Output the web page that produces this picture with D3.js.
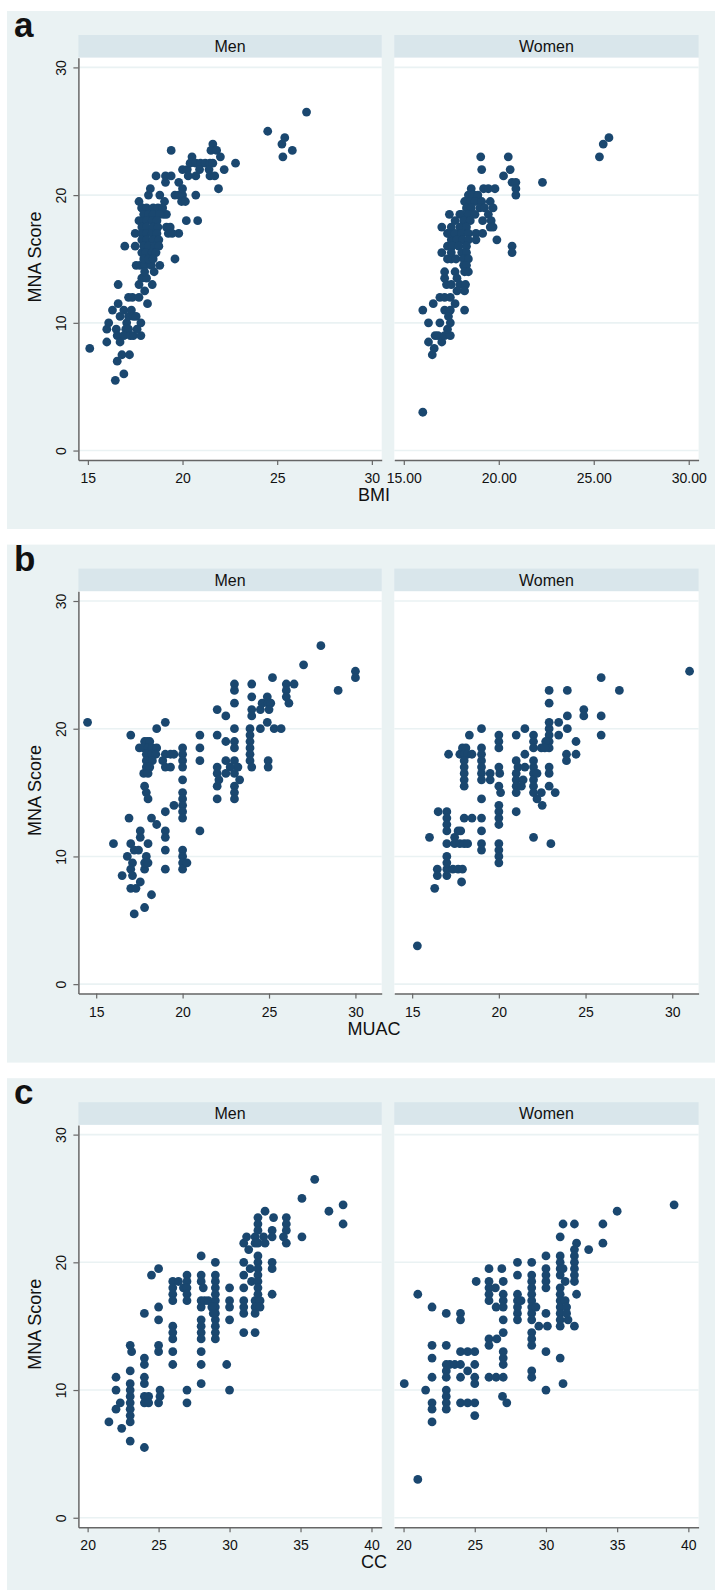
<!DOCTYPE html>
<html><head><meta charset="utf-8">
<script src="https://cdn.jsdelivr.net/npm/d3@7"></script>
<style>
body{margin:0;background:#fff}
svg{display:block}
text{font-family:"Liberation Sans",Arial,Helvetica,sans-serif;fill:#111}
</style>
</head><body>
<svg id="chart" width="715" height="1590"></svg>
<script>
// ---------- DATA ----------
const facetNames = ["Men", "Women"];
const yTicks = [0, 10, 20, 30];
const bmiTicks = [15, 20, 25, 30];
const muacTicks = [15, 20, 25, 30];
const ccTicks = [20, 25, 30, 35, 40];

const menBMI = [
[15.1,8],[16.0,8.5],[16.0,9.5],[16.1,10],[16.3,11],[16.6,13],[16.6,11.5],[16.7,10.5],[16.5,9.5],[16.55,9],[16.7,8.5],[16.8,7.5],[16.55,7],[16.45,5.5],[16.9,6],[17.2,7.5],[16.9,11],[17.05,10],[17.15,10.5],[17.3,11],[17.4,10.5],[17.55,10.5],[17.0,9.5],[17.15,9.5],[16.9,9],[17.25,9],[17.4,9],[17.8,9],[17.8,10],[17.6,9.5],[17.15,12],[17.35,12],[17.7,12],[18.15,11.5],[18.0,12.5],[17.7,13],[17.85,13.5],[18.4,13],[18.1,13.5],[17.55,14.5],[17.75,14.5],[18.0,14.5],[18.35,14.5],[18.8,14.5],[18.0,14],[18.5,14],[16.95,16],[17.5,16],[19.6,15],[17.5,17],[17.7,18],[17.85,19],[17.7,19.5],[18.2,20],[18.3,20.5],[18.6,21.5],[18.8,20],[19.05,19.5],[19.0,18.5],[19.15,18.5],[19.1,21],[19.1,21.5],[19.4,21.5],[19.4,23.5],[19.15,17.5],[19.35,17.5],[19.25,17],[19.8,17],[19.45,17],[19.6,20],[19.8,20],[20.0,20],[19.8,21],[20.0,20.5],[19.95,19.5],[20.15,19.5],[20.2,18],[20.8,18],[20.7,20],[20.0,22],[20.25,22],[20.3,21.5],[20.7,21.5],[20.5,23],[20.4,22.5],[20.7,22.5],[20.95,22.5],[21.2,22.5],[21.45,22.5],[21.6,22.5],[20.9,22],[21.4,22],[21.45,21.5],[21.7,21.5],[21.9,20.5],[22.2,22],[22.8,22.5],[21.6,24],[21.5,23.5],[21.8,23.5],[22.0,23],[24.5,25],[25.25,24],[25.4,24.5],[25.3,23],[25.8,23.5],[26.55,26.5],
[17.85,19],[18.1,19],[18.45,19],[18.7,19],[18.95,19],
[17.95,18.5],[18.2,18.5],[18.45,18.5],[18.8,18.5],
[17.95,18],[18.1,18],[18.4,18],[18.65,18],
[17.85,17.5],[18.1,17.5],[18.45,17.5],[18.7,17.5],
[17.85,17],[18.1,17],[18.4,17],[18.65,17],
[17.85,16.5],[18.1,16.5],[18.45,16.5],[18.75,16.5],
[17.95,16],[18.2,16],[18.55,16],[18.75,16],
[17.85,15.5],[18.05,15.5],[18.4,15.5],[18.6,15.5],
[17.95,15],[18.2,15],[18.45,15]
];

const womenBMI = [
[16.0,3],[16.0,11],[16.3,10],[16.55,11.5],[16.3,8.5],[16.6,8],[16.5,7.5],[16.9,10],[16.65,9],[16.8,9],[17.0,8.5],[17.15,11],[17.45,11],[17.7,11.5],[16.9,12],[17.15,12],[17.45,12],[18.2,11],[17.15,9],[17.45,9],[17.3,9.5],[17.45,10],[17.35,10.5],[17.15,13.5],[17.15,14],[17.7,14],[17.25,13],[17.5,13],[17.95,13],[18.25,13],[17.8,13.5],[18.2,12.5],[17.8,12.5],[17.0,15.5],[17.3,16],[17.5,15],[17.3,15],[17.0,17.5],[17.3,17],[17.5,16.5],[17.4,18.5],[17.7,18],[17.95,18.5],[18.2,19.5],[18.55,20.5],[18.7,20],[19.2,20.5],[19.45,20.5],[19.8,20.5],[19.05,23],[19.1,22],[20.5,23],[20.6,22],[20.25,21.5],[20.7,21],[20.9,21],[20.9,20.5],[20.9,20],[22.3,21],[19.9,16.5],[20.7,16],[20.7,15.5],[25.3,23],[25.5,24],[25.8,24.5],
[18.4,20],[18.65,20],[18.9,20],
[18.5,19.5],[18.75,19.5],[19.1,19.5],[19.55,19.5],
[18.3,19],[18.55,19],[19.0,19],[19.25,19],[19.7,19],
[18.05,18.5],[18.4,18.5],[18.75,18.5],[19.45,18.5],
[18.15,18],[18.5,18],[19.15,18],[19.6,18],
[17.5,17.5],[17.95,17.5],[18.3,17.5],[19.55,17.5],[19.7,17.5],
[17.35,17],[17.7,17],[18.05,17],[18.4,17],[18.8,17],[19.15,17],
[17.8,16.5],[18.1,16.5],[18.4,16.5],[18.8,16.5],
[17.55,16],[17.9,16],[18.3,16],
[17.5,15.5],[18.05,15.5],[18.3,15.5],
[17.75,15],[18.15,15],[18.4,15],
[18.15,14.5],[18.3,14.5],
[18.2,14],[18.4,14]
];

const menMUAC = [
[14.5,20.5],[16.0,11],[16.5,8.5],[16.9,13],[17.0,19.5],[16.8,10],[17.0,11],[17.2,10.5],[17.1,9.5],[17.0,9],[17.1,8.5],[17.0,7.5],[17.3,7.5],[17.2,5.5],[17.55,8],[17.45,10.5],[17.55,12],[17.55,11.5],[17.8,9],[17.8,9.5],[18.0,11],[17.9,10],[18.0,9.5],[18.2,7],[17.8,6],[18.2,13],[18.5,12.5],[18.5,20],[19.0,20.5],
[17.8,19],[17.95,19],[18.1,19],
[17.5,18.5],[17.75,18.5],[18.0,18.5],[18.25,18.5],[18.5,18.5],
[17.9,18],[18.2,18],[18.45,18],
[17.9,17.5],[18.25,17.5],[18.85,17.5],
[19.0,18],[19.3,18],[19.5,18],
[17.9,17],[18.1,17],[19.0,17],[19.3,17],
[17.75,16.5],[18.0,16.5],
[17.8,15.5],[17.9,15],[18.0,14.5],
[20,18.5],[20,18],[20,17.5],[20,17],[20,16],[20,15],[20,14.5],[20,14],[20,13.5],[20,13],[20,10.5],[20,10],[20,9.5],[20,9],[20.25,9.5],
[19,13.5],[19,12],[19,11.5],[19,10.5],[19,9],
[19.5,14],
[21,19.5],[21,18.5],[21,17.5],[21,12],
[22,21.5],[22,19.5],[22,17],[22,16.5],[22,15.5],[22,14.5],[22.1,16],
[22.5,21],[22.5,19],[22.5,17.5],[22.5,16.5],
[23,23.5],[23,23],[23,22],[23,20],[23,19],[23,18.5],[23,17.5],[23,16.5],[23,15.5],[23,15],[23,14.5],[23.2,17],[23.3,16],[22.75,17],
[24,23.5],[24,22.5],[24,21.5],[24,21],[23.9,20],[23.9,19.5],[23.9,19],[23.9,18.5],[23.9,18],[23.9,17.5],[24,17],
[24.5,21.5],[24.5,20],[24.6,22],
[24.9,22.5],[24.95,22],[25.1,22],[25,21.5],[24.9,20.5],[25.3,20],[25.7,20],[24.95,17.5],[24.95,17],[25.2,24],
[26,23.5],[26,23],[26,22.5],[26.15,22],[26.45,23.5],
[27,25],[28,26.5],[29,23],[30,24.5],[30,24]
];

const womenMUAC = [
[15.3,3],[16.0,11.5],[16.3,7.5],[16.45,9],[16.45,8.5],[16.5,13.5],
[17,8.5],[17,9],[17,9.5],[17,10],[17,13.5],[17,13],[17,12.5],[17,12],[17,11],
[17.45,11.5],[17.65,12],[17.8,12],[17.45,11],[17.75,11],[18,11],[18.2,11],
[17.35,9],[17.65,9],[17.9,9],[17.85,8],
[18,13],[18.45,13],[19,13],[19,14.5],[19,12],[19,11],[19,10.5],
[17.1,18],[17.75,18],[17.9,18.5],[18.1,18.5],[18,18],[18.2,18],[18.45,18],
[18,16.5],[18,16],[18,15.5],[18,17.5],[18,17],[18.3,19.5],[19,20],
[19,18.5],[19,18],[19,17.5],[19,17],[19,16.5],[19,16],[19.5,16.5],[19.5,16],
[20,19.5],[20,19],[20,18.5],[20,17],[20.05,16.5],[20,15.5],[20.1,15],
[20,14],[20,13.5],[20,13],[20,12.5],[20,11],[20,10.5],[20,10],[20,9.5],
[21,19.5],[21,17.5],[21,16.5],[21,16],[21,15.5],[21,15],[21,13.5],[21.1,17],[21.4,16],[21.3,15.5],
[21.5,20],[21.5,18],[21.5,17],
[22,19.5],[22,19],[22,18.5],[22,17.5],[22,17],[22,16.5],[22,16],[22,15.5],[22,15],
[22.2,16.5],[22.2,14.5],[22.45,15],[22.5,14],[22.45,18.5],[22,11.5],
[22.9,23],[22.9,22],[22.9,20.5],[22.9,20],[22.9,19.5],[22.9,19],[22.9,18.5],[22.9,17],[22.9,16.5],[22.9,15.5],
[22.7,19],[22.65,18.5],[23,11],[23.25,15],[23.45,20.5],[23.45,19.5],
[23.95,23],[23.95,21],[23.95,20],[23.9,18],[23.9,17.5],[24.45,19],[24.45,18],
[24.9,21.5],[24.9,21],[25.9,24],[25.9,21],[25.9,19.5],[26.95,23],[31,24.5]
];

const menCC = [
[21.5,7.5],[22,11],[22,10],[22,8.5],[22.3,9],[22.4,7],[23,13.5],[23.1,13],[23,11.5],[23,10.5],[23,10],[23,9.5],[23,9],[23,8.5],[23,8],[23,7.5],[23,6],[24,5.5],[24,16],[24,12.5],[24,12],[24,11],[24,10.5],[24,9.5],[24,9],[24.3,9.5],[24.3,9],[24.5,19],[25,19.5],[25,16.5],[25,15.5],[25,13.5],[25,13],[25.1,10],[25.1,9.5],[25,9],
[26,15],[26,14.5],[26,14],[26,13],[26,12],[26,18.5],[26,18],[26,17.5],[26,17],[26.4,18.5],[26.75,18],[27,19],[27,18.5],[27,18],[27,17.5],[27,17],[27,10],[27,9],
[28,20.5],[28,19],[28,18.5],[28.15,18],[28,17],[28,16.5],[28.25,17],[28.5,17],[28,15.5],[28,15],[28,14.5],[28,14],[28,13],[28,12],[28,10.5],
[29,20],[29,19],[29,18.5],[29,18],[29,17.5],[29,17],[29,16.5],[29,16],[29,15.5],[29,15],[29,14.5],[29,14],[28.75,16.5],[28.85,16],[29.8,12],
[30,18],[30,17],[30,16.5],[30,15.5],[30,10],
[31,21.5],[31,20],[31,19],[31,18],[31,17],[31,16.5],[31,16],[31,14.5],[31.2,22],[31.35,21],[31.45,19.5],[31.55,18.5],
[31.8,22],[31.8,21.5],[31.8,17],[31.8,16.5],[31.8,16],[31.8,14.5],
[32,23.5],[32,23],[32,22.5],[32,21.5],[32,20.5],[32,20],[32,19.5],[32,19],[32,18.5],[32,18],[32,17.5],[32.5,24],[32.4,22],[32.5,21.5],[32.15,17],[32.15,16.5],
[33.1,23.5],[33,22.5],[33,22],[33,20],[33,19.5],[33,17.5],
[34,23.5],[34,23],[34,22.5],[33.8,22],[34,21.5],[35.1,25],[35.1,22],[36,26.5],[37,24],[38,24.5],[38,23]
];

const womenCC = [
[20.05,10.5],[21,17.5],[21,3],[21.55,10],[22,16.5],[22,13.5],[22,12.5],[22,11],[22,9],[22,8.5],[22,7.5],
[23,16],[23,13.5],[23,12],[23,11.5],[23,11],[23,10],[23,9.5],[23,9],[23,8.5],[23.25,12],[23.6,12],[24,12],
[24,16],[24,15.5],[24,13],[24.5,13],[25,13],[24,11],[24.5,11.5],[25,12],[25,11],[25,10.5],[24,9],[24.5,9],[25,9],[25,8],
[25.1,18.5],[26,19.5],[26,18.5],[26,18],[26,17.5],[26,17],[26.45,18],[26.5,16.5],[26,14],[26,13.5],[26.55,14],[26,11],[26.5,11],[27,11],
[26.9,19.5],[27,18.5],[27,17.5],[27,17],[27,16.5],[27,15.5],[27,14.5],[27,13],[27,12.5],[27,12],[26.95,9.5],[27.25,9],
[28,20],[28,19],[28,17.5],[28,17],[28,16.5],[28,16],[28,15.5],[28.25,17],
[29,20],[29,19],[29,18.5],[29,18],[29,17.5],[29,17],[29,16.5],[29,16],[29,15.5],[29,14.5],[29,14],[29,13.5],[29,11.5],[29,11],[29.3,16.5],[29.5,15],[30.1,15],
[30,20.5],[30,19.5],[30,19],[30,18.5],[30,18],[30,16],[30,13],[30,10],
[31,22],[31,20.5],[31,20],[31,19.5],[31,19],[31,18],[31,17.5],[31,17],[31,16.5],[31,16],[31,15.5],[31,15],[31,12.5],[31.2,23],[31.2,10.5],[31.2,19.5],[31.35,18.5],[31.35,17],[31.45,16.5],[31.55,15.5],[31.45,16],
[32,23],[32.15,21.5],[32,21],[32,20.5],[32,20],[32,19.5],[32,19],[32,18.5],[32.15,17.5],[32,15],
[33,21],[34,23],[34,21.5],[35,24],[39,24.5]
];

// ---------- LAYOUT ----------
const colors = {bg:"#eaf2f3", strip:"#d9e6eb", grid:"#eaf2f3", marker:"#1a476f", axis:"#666"};
const panelStep = 533.6;
const facetX = [[78.4, 381.7], [394.3, 698.6]];
const stripTop = 35, plotTop = 57.7, plotBottom = 460;
const yDomain = [-0.74, 30.76];

const panels = [
  {letter:"a", title:"BMI",  data:[menBMI, womenBMI],   xDomain:[14.5, 30.52],  ticks:bmiTicks,  fmt:[d3.format("d"), d3.format(".2f")]},
  {letter:"b", title:"MUAC", data:[menMUAC, womenMUAC], xDomain:[13.97, 31.52], ticks:muacTicks, fmt:[d3.format("d"), d3.format("d")]},
  {letter:"c", title:"CC",   data:[menCC, womenCC],     xDomain:[19.35, 40.72], ticks:ccTicks,   fmt:[d3.format("d"), d3.format("d")]}
];

const svg = d3.select("#chart");

panels.forEach((p, i) => {
  const g = svg.append("g").attr("transform", `translate(0,${i * panelStep})`);
  g.append("rect").attr("x", 7).attr("y", 11).attr("width", 708).attr("height", 518).attr("fill", colors.bg);
  g.append("text").attr("x", 14).attr("y", 37).attr("font-size", 35).attr("font-weight", "bold").text(p.letter);

  const y = d3.scaleLinear().domain(yDomain).range([plotBottom, plotTop]);

  facetNames.forEach((name, j) => {
    const [x0, x1] = facetX[j];
    const x = d3.scaleLinear().domain(p.xDomain).range([x0, x1]);
    g.append("rect").attr("x", x0).attr("y", stripTop).attr("width", x1 - x0).attr("height", plotTop - stripTop).attr("fill", colors.strip);
    g.append("text").attr("x", (x0 + x1) / 2).attr("y", 52).attr("text-anchor", "middle").attr("font-size", 16).text(name);
    g.append("rect").attr("x", x0).attr("y", plotTop).attr("width", x1 - x0).attr("height", plotBottom - plotTop).attr("fill", "#fff");

    g.append("g").selectAll("line").data(yTicks).join("line")
      .attr("x1", x0).attr("x2", x1).attr("y1", d => y(d)).attr("y2", d => y(d))
      .attr("stroke", colors.grid).attr("stroke-width", 1.6);

    g.append("g").selectAll("circle").data(p.data[j]).join("circle")
      .attr("cx", d => x(d[0])).attr("cy", d => y(d[1])).attr("r", 4.4)
      .attr("fill", colors.marker);

    const xa = g.append("g").attr("transform", `translate(0,${plotBottom})`)
      .call(d3.axisBottom(x).tickValues(p.ticks).tickFormat(p.fmt[j]).tickSize(5).tickSizeOuter(0).tickPadding(8));
    xa.select(".domain").attr("stroke", colors.axis).attr("stroke-width", 1.5);
    xa.selectAll(".tick line").attr("stroke", colors.axis).attr("stroke-width", 1.2);
    xa.selectAll(".tick text").attr("font-size", 14).attr("fill", "#111");
    xa.attr("font-family", null);

    if (j === 0) {
      const ya = g.append("g").attr("transform", `translate(${x0},0)`)
        .call(d3.axisLeft(y).tickValues(yTicks).tickFormat(d3.format("d")).tickSize(5).tickSizeOuter(0));
      ya.select(".domain").attr("stroke", colors.axis).attr("stroke-width", 1.5);
      ya.selectAll(".tick line").attr("stroke", colors.axis).attr("stroke-width", 1.2);
      ya.selectAll(".tick text").attr("font-size", 14).attr("fill", "#111")
        .attr("x", null).attr("dy", null).attr("text-anchor", "middle")
        .attr("transform", "translate(-12,0) rotate(-90)");
      ya.attr("font-family", null);
    }
  });

  g.append("text").attr("x", 374).attr("y", 501).attr("text-anchor", "middle").attr("font-size", 18).text(p.title);
  g.append("text").attr("transform", "translate(41,257) rotate(-90)").attr("text-anchor", "middle").attr("font-size", 18).text("MNA Score");
});
</script>
</body></html>
